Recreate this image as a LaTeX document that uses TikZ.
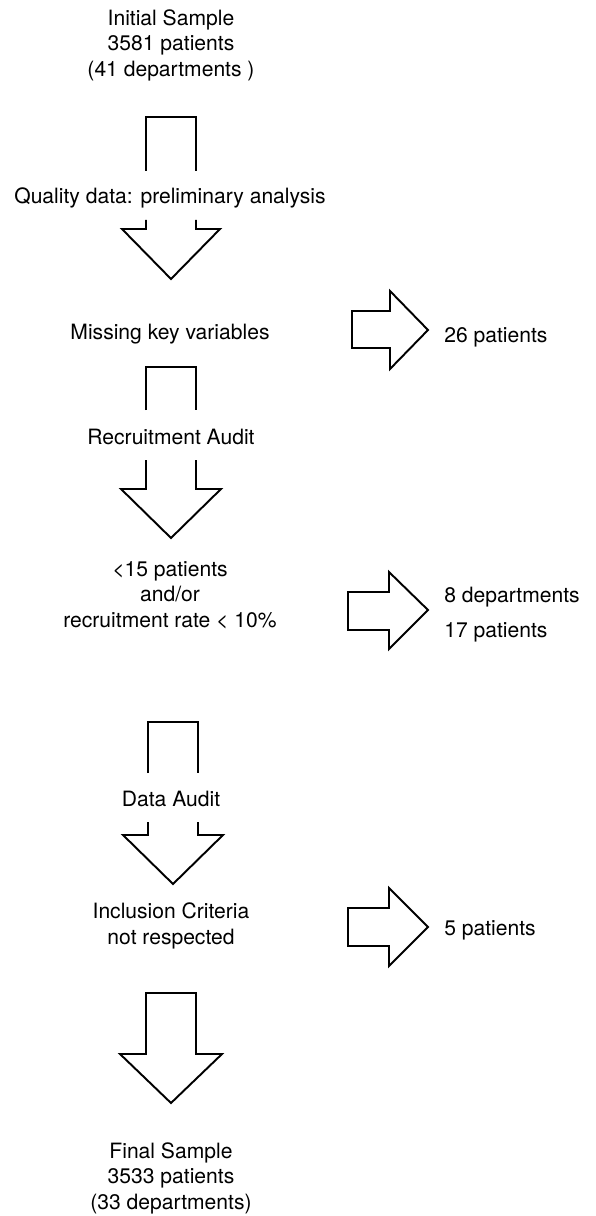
\documentclass[tikz,border=0pt]{standalone}
\usepackage{fontspec}
\setmainfont{TeX Gyre Heros}
\usepackage{tikz}
\usetikzlibrary{positioning}

\tikzset{
  flowtext/.style={align=center,inner sep=0pt,font=\fontsize{12}{14.5}\selectfont},
  sidetext/.style={anchor=west,inner sep=0pt,font=\fontsize{12}{14.5}\selectfont},
  blockline/.style={draw=black,line width=1.1pt,line join=miter}
}

\begin{document}
\begin{tikzpicture}[x=0.02cm,y=-0.02cm]
    \useasboundingbox (0,0) rectangle (595,1216);

    % main column
    \node[flowtext] (init) at (171,45) {Initial Sample\\3581 patients\\(41 departments )};
    \node[flowtext] (quality) at (170,198) {Quality data: preliminary analysis};
    \node[flowtext] (missing) at (170,334) {Missing key variables};
    \node[flowtext] (recruit) at (171,437) {Recruitment Audit};
    \node[flowtext] (lowrec) at (170,595) {<15 patients\\and/or\\recruitment rate < 10\%};
    \node[flowtext] (dataaudit) at (171,799) {Data Audit};
    \node[flowtext] (inclusion) at (171,926) {Inclusion Criteria\\not respected};
    \node[flowtext] (final) at (171,1178) {Final Sample\\3533 patients\\(33 departments)};

    % excluded
    \node[sidetext] (excl1) at (444,337) {26 patients};
    \node[sidetext] (excl2) at (444,597) {8 departments};
    \node[sidetext] (excl2b) at (444,632) {17 patients};
    \node[sidetext] (excl3) at (444,930) {5 patients};

    % down arrows, cut by the step labels
    \draw[blockline] (146,171) |- (196,117) -- (196,171);
    \draw[blockline] (146,220) -- (146,229) -- (122,229) -- (171,279) -- (220,229) -- (196,229) -- (196,220);
    \draw[blockline] (146,410) |- (196,367) -- (196,410);
    \draw[blockline] (146,460) -- (146,489) -- (121,489) -- (171,538) -- (221,489) -- (196,489) -- (196,460);
    \draw[blockline] (148,773) |- (198,722) -- (198,773);
    \draw[blockline] (148,822) -- (148,835) -- (123,835) -- (173,884) -- (223,835) -- (198,835) -- (198,822);
    \draw[blockline] (146,993) -- (196,993) -- (196,1054) -- (222,1054) -- (171,1103) -- (120,1054) -- (146,1054) -- cycle;

    % side arrows
    \draw[blockline] (352,311) -- (390,311) -- (390,291) -- (428,330) -- (390,369) -- (390,348) -- (352,348) -- cycle;
    \draw[blockline] (348,592) -- (389,592) -- (389,572) -- (428,610) -- (389,649) -- (389,630) -- (348,630) -- cycle;
    \draw[blockline] (348,908) -- (389,908) -- (389,888) -- (428,927) -- (389,966) -- (389,946) -- (348,946) -- cycle;
\end{tikzpicture}
\end{document}
